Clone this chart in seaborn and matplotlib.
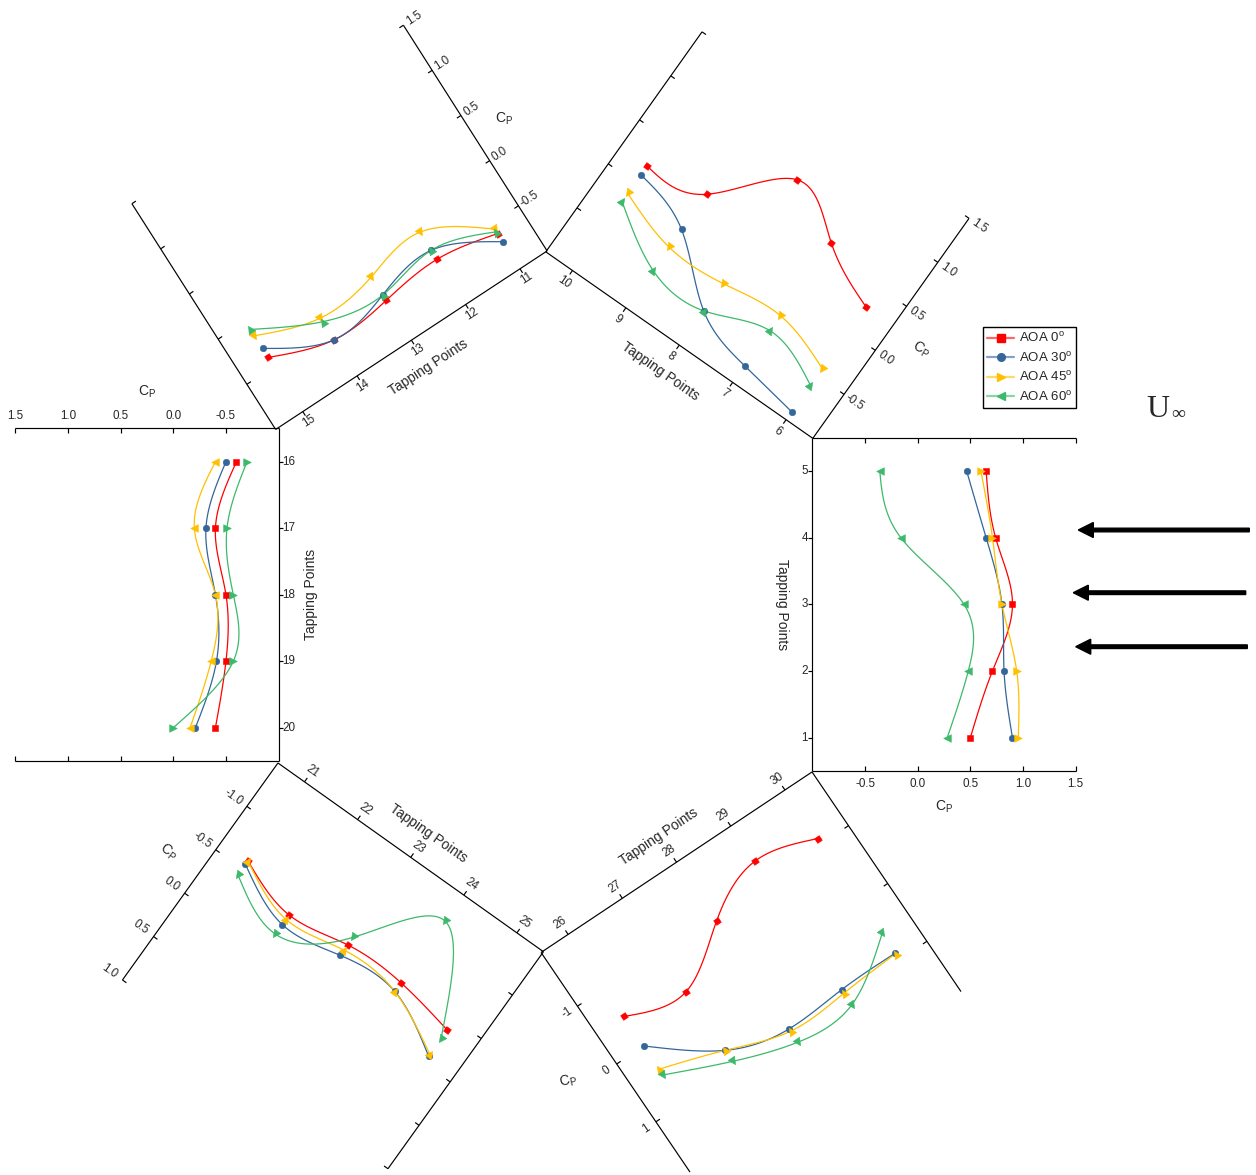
import numpy as np
import matplotlib
matplotlib.use("Agg")
import matplotlib.pyplot as plt
import seaborn as sns
from matplotlib.transforms import Affine2D
from matplotlib.markers import MarkerStyle
from matplotlib.lines import Line2D
from matplotlib.colors import to_rgba

# ---------------- data (Cp at tapping points 1..30) ----------------
tapping_points = list(range(1, 31))
cp_aoa0 = [0.50, 0.71, 0.90, 0.74, 0.65,
           0.28, 0.58, 0.88, 0.29, 0.19,
           -0.61, -0.50, -0.56, -0.60, -0.40,
           -0.60, -0.40, -0.50, -0.50, -0.40,
           -0.59, -0.40, -0.49, -0.49, -0.38,
           -0.51, -0.31, -0.91, -1.32, -1.09]
cp_aoa30 = [0.90, 0.82, 0.80, 0.65, 0.465,
            -0.91, -0.81, -0.61, -0.11, 0.09,
            -0.70, -0.40, -0.50, -0.60, -0.30,
            -0.50, -0.31, -0.40, -0.41, -0.21,
            -0.55, -0.29, -0.37, -0.39, -0.08,
            0.00, 0.70, 0.95, 0.90, 0.89]
cp_aoa45 = [0.955, 0.94, 0.80, 0.71, 0.60,
            -0.42, -0.24, -0.30, -0.31, -0.12,
            -0.56, -0.20, -0.30, -0.36, -0.16,
            -0.40, -0.20, -0.40, -0.36, -0.16,
            -0.59, -0.35, -0.43, -0.39, -0.10,
            0.40, 0.70, 0.99, 0.96, 0.90]
cp_aoa60 = [0.28, 0.48, 0.44, -0.16, -0.36,
            -0.61, -0.41, -0.61, -0.57, -0.21,
            -0.59, -0.40, -0.50, -0.40, -0.09,
            -0.70, -0.51, -0.57, -0.57, 0.00,
            -0.43, -0.18, -0.58, -1.20, -0.28,
            0.50, 0.89, 1.18, 1.16, 0.55]
series_values = [cp_aoa0, cp_aoa30, cp_aoa45, cp_aoa60]
series_labels = [r"AOA 0$^{\mathregular{o}}$", r"AOA 30$^{\mathregular{o}}$",
                 r"AOA 45$^{\mathregular{o}}$", r"AOA 60$^{\mathregular{o}}$"]

# ---------------- styles ----------------
series_colors = ["#FF0000", "#336699", "#FFC000", "#3CB96A"]
series_markers = ["s", "o", ">", "<"]
series_msize = [16, 22, 30, 30]

# ---------------- panel layout (pixel geometry of each rotated panel) ----------------
std_ticks = [-0.5, 0.0, 0.5, 1.0, 1.5]
panels = [
    dict(first=1, origin=(917.7, 804.4), u=(105.3, 0.0), v=(0.0, -66.67),
         cp_lim=(-1.0, 1.5), cp_ticks=std_ticks, fmt="{:.1f}",
         tick_rot=0, idx_title_rot=270, cp_title_rot=0, marker_rot=0,
         idx_lab_off=7.5, cp_lab_off=13, idx_title_off=30, cp_title_off=36, cp_title_at=0.25),
    dict(first=6, origin=(902.0, 369.0), u=(62.5, -88.0), v=(-53.4, -37.3),
         cp_lim=(-1.0, 1.5), cp_ticks=std_ticks, fmt="{:.1f}",
         tick_rot=-35, idx_title_rot=-35, cp_title_rot=-30, marker_rot=234.6,
         idx_lab_off=14, cp_lab_off=13, idx_title_off=32, cp_title_off=36, cp_title_at=0.25),
    dict(first=11, origin=(516.8, 142.8), u=(-57.5, -90.3), v=(-54.3, 35.7),
         cp_lim=(-1.0, 1.5), cp_ticks=std_ticks, fmt="{:.1f}",
         tick_rot=33, idx_title_rot=33, cp_title_rot=0, marker_rot=302.5,
         idx_lab_off=11.5, cp_lab_off=12.5, idx_title_off=32, cp_title_off=35, cp_title_at=0.25),
    dict(first=16, origin=(173.3, 395.2), u=(-105.3, 0.0), v=(0.0, 66.5),
         cp_lim=(-1.0, 1.5), cp_ticks=std_ticks, fmt="{:.1f}",
         tick_rot=0, idx_title_rot=90, cp_title_rot=0, marker_rot=180,
         idx_lab_off=10, cp_lab_off=12.5, idx_title_off=32, cp_title_off=36.5, cp_title_at=0.25),
    dict(first=21, origin=(158.1, 874.3), u=(-62.2, 86.8), v=(53.1, 37.75),
         cp_lim=(-1.5, 1.0), cp_ticks=[-1.0, -0.5, 0.0, 0.5, 1.0], fmt="{:.1f}",
         tick_rot=-35, idx_title_rot=-35, cp_title_rot=-37, marker_rot=54.4,
         idx_lab_off=13, cp_lab_off=16, idx_title_off=30, cp_title_off=37.5, cp_title_at=-0.23),
    dict(first=26, origin=(589.6, 1082.05), u=(39.2, 57.8), v=(54.2, -36.1),
         cp_lim=(-1.93, 1.87), cp_ticks=[-1.0, 0.0, 1.0], fmt="{:.0f}",
         tick_rot=34, idx_title_rot=34, cp_title_rot=12, marker_rot=124.1,
         idx_lab_off=13.5, cp_lab_off=12, idx_title_off=31, cp_title_off=50, cp_title_at=-0.18),
]

W, H = 1256, 1175
sns.set_theme(style="white")
plt.rcParams["font.family"] = ["Liberation Sans", "DejaVu Sans"]
plt.rcParams["mathtext.fontset"] = "custom"
plt.rcParams["mathtext.rm"] = "Liberation Sans"
plt.rcParams["mathtext.it"] = "Liberation Sans:italic"

fig = plt.figure(figsize=(W / 100, H / 100), dpi=100)
ax = fig.add_axes([0, 0, 1, 1])
ax.set_xlim(0, W)
ax.set_ylim(H, 0)
ax.axis("off")

TICK_FS = 8.4
TITLE_FS = 10
AX_LW = 0.85
TICK_LEN = 4.8


def spline_curve(vals, n=24):
    """Natural cubic spline through the points (drawing of the connecting line)."""
    y = np.asarray(vals, float)
    N = len(y)
    A = np.zeros((N, N))
    b = np.zeros(N)
    A[0, 0] = A[-1, -1] = 1
    for i in range(1, N - 1):
        A[i, i - 1:i + 2] = [1, 4, 1]
        b[i] = 6 * (y[i + 1] - 2 * y[i] + y[i - 1])
    M = np.linalg.solve(A, b)
    t = np.linspace(0, N - 1, (N - 1) * n + 1)
    i = np.minimum(t.astype(int), N - 2)
    s = t - i
    val = (1 - s) * y[i] + s * y[i + 1] + ((1 - s) ** 3 - (1 - s)) * M[i] / 6 + (s ** 3 - s) * M[i + 1] / 6
    return t + 1, val


for p in panels:
    O = np.array(p["origin"])
    u = np.array(p["u"])
    v = np.array(p["v"])
    uh = u / np.linalg.norm(u)
    vh = v / np.linalg.norm(v)
    T = Affine2D(np.array([[u[0], v[0], O[0]], [u[1], v[1], O[1]], [0, 0, 1]])) + ax.transData

    def px(cp, j):
        return O + cp * u + j * v

    c0, c1 = p["cp_lim"]
    du = TICK_LEN / np.linalg.norm(u)
    dv = TICK_LEN / np.linalg.norm(v)
    line_kw = dict(color="black", lw=AX_LW, transform=T, zorder=1, solid_capstyle="butt")
    # index (tapping points) axis, Cp axis and opposite Cp line
    ax.plot([c0, c0], [0.5, 5.5], **line_kw)
    ax.plot([c0, c1], [0.5, 0.5], **line_kw)
    ax.plot([c0, c1], [5.5, 5.5], **line_kw)
    taps = tapping_points[p["first"] - 1:p["first"] + 4]
    for j, tp in enumerate(taps, start=1):
        ax.plot([c0, c0 - du], [j, j], **line_kw)
        x, y = px(c0, j) - uh * p["idx_lab_off"]
        ax.text(x, y, str(tp), fontsize=TICK_FS, rotation=p["tick_rot"], rotation_mode="anchor",
                ha="center", va="center")
    for c in p["cp_ticks"]:
        ax.plot([c, c], [0.5, 0.5 + dv], **line_kw)
        ax.plot([c, c], [5.5, 5.5 - dv], **line_kw)
        x, y = px(c, 0.5) - vh * p["cp_lab_off"]
        ax.text(x, y, p["fmt"].format(c), fontsize=TICK_FS, rotation=p["tick_rot"],
                rotation_mode="anchor", ha="center", va="center")
    x, y = px(c0, 3) - uh * p["idx_title_off"]
    ax.text(x, y, "Tapping Points", fontsize=TITLE_FS, rotation=p["idx_title_rot"],
            rotation_mode="anchor", ha="center", va="center")
    x, y = px(p["cp_title_at"], 0.5) - vh * p["cp_title_off"]
    ax.text(x, y, r"C$_{\mathregular{P}}$", fontsize=TITLE_FS, rotation=p["cp_title_rot"],
            rotation_mode="anchor", ha="center", va="center")

    # data
    jpos = [1, 2, 3, 4, 5]
    for vals_all, col, mk, ms in zip(series_values, series_colors, series_markers, series_msize):
        vals = vals_all[p["first"] - 1:p["first"] + 4]
        jj, cc = spline_curve(vals)
        sns.lineplot(x=cc, y=jj, sort=False, estimator=None, color=col, lw=0.9,
                     transform=T, ax=ax, legend=False, zorder=2)
        sns.scatterplot(x=vals, y=jpos, ax=ax, legend=False, zorder=3,
                        marker=MarkerStyle(mk, transform=Affine2D().rotate_deg(p["marker_rot"])),
                        s=ms, color=col, edgecolor=col, linewidth=0.4, transform=T)

# legend: light line with solid marker in the middle
handles = []
for col, mk in zip(series_colors, series_markers):
    handles.append(Line2D([0], [0], color=to_rgba(col, 0.6), lw=1.6, marker=mk,
                          markerfacecolor=col, markeredgecolor=col, markersize=5.5))
leg = ax.legend(handles, series_labels, numpoints=1,
                loc="upper left", bbox_to_anchor=(982.7, 327.3), bbox_transform=ax.transData,
                frameon=True, fancybox=False, edgecolor="black", framealpha=1, fontsize=9.5,
                borderpad=0.3, labelspacing=0.42, handlelength=2.1, handletextpad=0.35,
                borderaxespad=0)
leg.get_frame().set_linewidth(1.0)

# free stream annotation
ax.text(1158, 417.3, "U", fontsize=23, family=["Liberation Serif", "DejaVu Serif"],
        ha="center", va="baseline")
ax.text(1178, 419, "\u221e", fontsize=14, family=["Liberation Serif", "DejaVu Serif"],
        ha="center", va="baseline")
for (xt, xh, ya) in [(1249.3, 1078.3, 530.0), (1245.7, 1073.3, 592.7), (1247.3, 1075.7, 646.7)]:
    ax.arrow(xt, ya, xh - xt, 0, width=3.6, head_width=15, head_length=15,
             length_includes_head=True, color="black", zorder=4)

fig.savefig("out.png", dpi=100)
